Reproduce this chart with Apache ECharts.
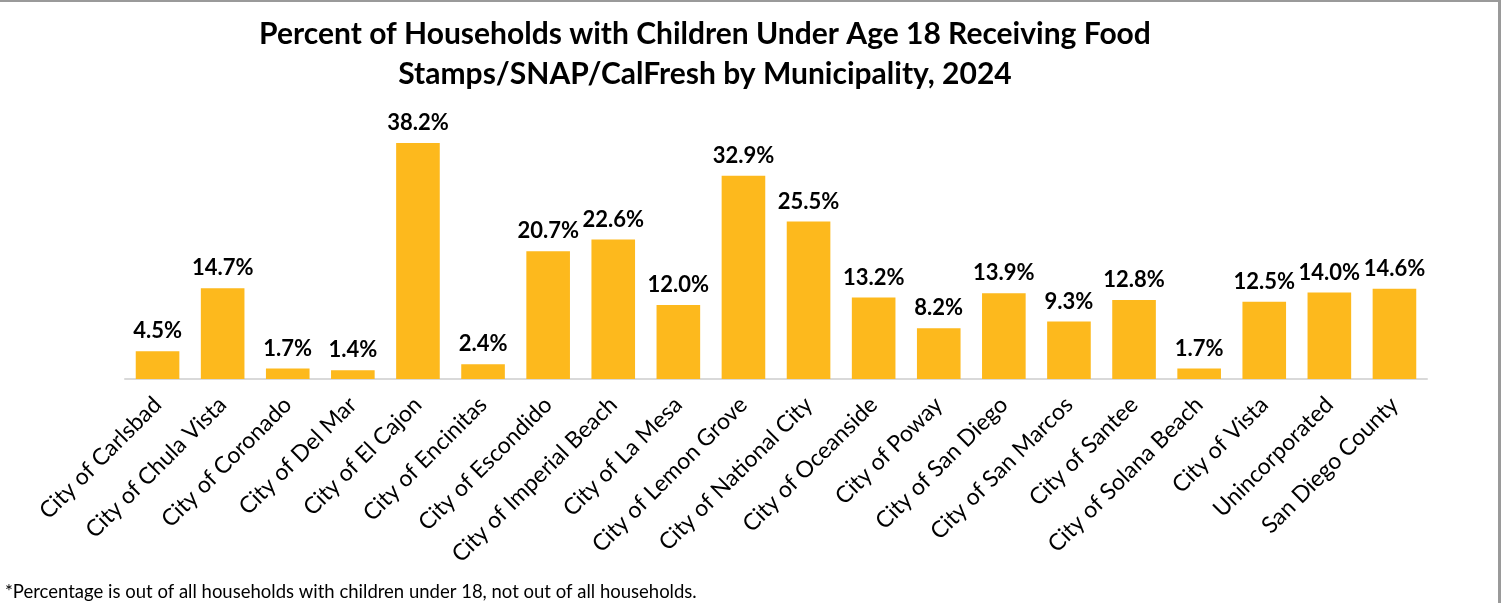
<!DOCTYPE html>
<html lang="en">
<head>
    <meta charset="UTF-8">
    <title>SNAP by Municipality</title>
    <style>
        html, body { margin: 0; padding: 0; background: #fff; }
        #main {
            width: 1501px;
            height: 603px;
            box-sizing: border-box;
            border-top: 2px solid #9a9a9a;
            border-right: 3px solid #9a9a9a;
        }
    </style>
    <script src="https://cdn.jsdelivr.net/npm/echarts@6/dist/echarts.min.js"></script>
</head>
<body>
<div id="main"></div>
<script>
    // categories and values
    var places = [
        'City of Carlsbad', 'City of Chula Vista', 'City of Coronado', 'City of Del Mar',
        'City of El Cajon', 'City of Encinitas', 'City of Escondido', 'City of Imperial Beach',
        'City of La Mesa', 'City of Lemon Grove', 'City of National City', 'City of Oceanside',
        'City of Poway', 'City of San Diego', 'City of San Marcos', 'City of Santee',
        'City of Solana Beach', 'City of Vista', 'Unincorporated', 'San Diego County'
    ];
    var percents = [4.5, 14.7, 1.7, 1.4, 38.2, 2.4, 20.7, 22.6, 12.0, 32.9,
                    25.5, 13.2, 8.2, 13.9, 9.3, 12.8, 1.7, 12.5, 14.0, 14.6];

    var myChart = echarts.init(document.getElementById('main'));
    var font = 'Lato, "Open Sans", sans-serif';

    var option = {
        animation: false,
        title: {
            text: 'Percent of Households with Children Under Age 18 Receiving Food\nStamps/SNAP/CalFresh by Municipality, 2024',
            left: 700,
            top: 7,
            textAlign: 'center',
            textStyle: {
                fontFamily: font,
                fontSize: 30,
                fontWeight: 'bold',
                color: '#000',
                lineHeight: 40
            }
        },
        graphic: [{
            type: 'text',
            left: 5,
            top: 581,
            style: {
                text: '*Percentage is out of all households with children under 18, not out of all households.',
                font: '18.5px ' + font,
                fill: '#000'
            }
        }],
        grid: {
            left: 125,
            right: 71,
            top: 130,
            bottom: 224
        },
        xAxis: {
            type: 'category',
            data: places,
            axisLine: { lineStyle: { color: '#d9d9d9', width: 2 } },
            axisTick: { show: false },
            axisLabel: {
                rotate: 45,
                interval: 0,
                margin: 22,
                fontFamily: font,
                fontSize: 23,
                color: '#000'
            }
        },
        yAxis: {
            type: 'value',
            min: 0,
            max: 40,
            show: false
        },
        series: [{
            type: 'bar',
            data: percents,
            barCategoryGap: '33%',
            itemStyle: { color: '#FDB91D' },
            label: {
                show: true,
                position: 'top',
                distance: 9,
                formatter: function (p) { return p.value.toFixed(1) + '%'; },
                fontFamily: font,
                fontSize: 22,
                fontWeight: 'bold',
                color: '#000'
            }
        }]
    };

    myChart.setOption(option);
</script>
</body>
</html>
